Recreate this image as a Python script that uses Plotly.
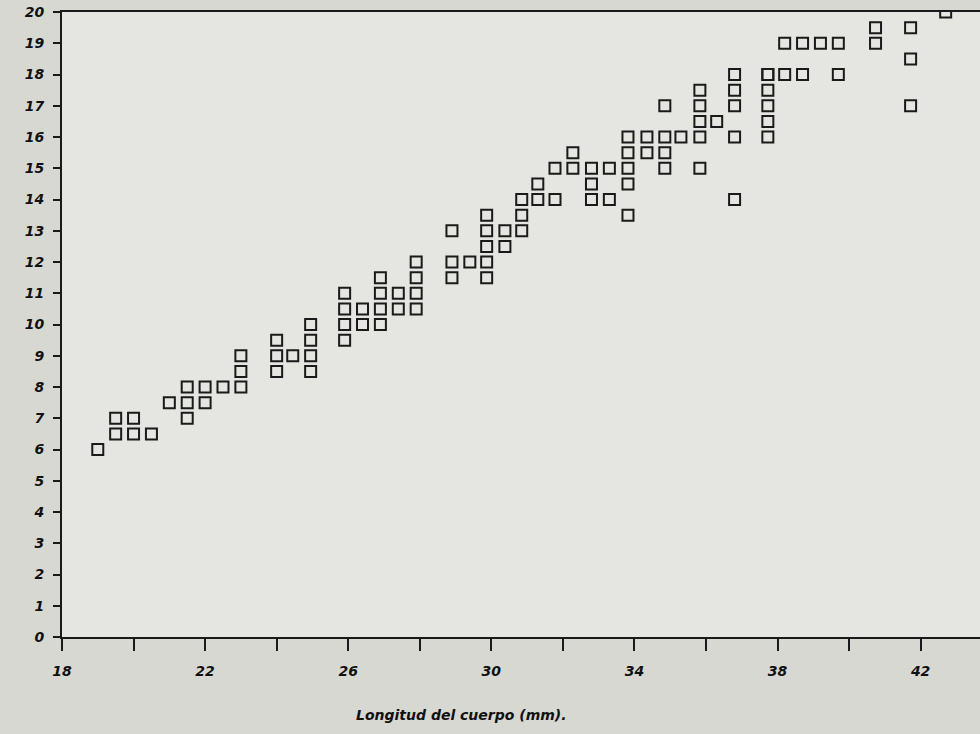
import plotly.graph_objects as go

# Body length (mm) vs. value
x_vals = [19.0,
          19.5, 19.5,
          20.0, 20.0,
          20.5,
          21.0,
          21.5, 21.5, 21.5,
          22.0, 22.0,
          22.5,
          23.0, 23.0, 23.0,
          24.0, 24.0, 24.0,
          24.45,
          24.95, 24.95, 24.95, 24.95,
          25.9, 25.9, 25.9, 25.9,
          26.4, 26.4,
          26.9, 26.9, 26.9, 26.9,
          27.4, 27.4,
          27.9, 27.9, 27.9, 27.9,
          28.9, 28.9, 28.9,
          29.4,
          29.87, 29.87, 29.87, 29.87, 29.87,
          30.38, 30.38,
          30.85, 30.85, 30.85,
          31.3, 31.3,
          31.78, 31.78,
          32.28, 32.28,
          32.8, 32.8, 32.8,
          33.3, 33.3,
          33.82, 33.82, 33.82, 33.82, 33.82,
          34.35, 34.35,
          34.85, 34.85, 34.85, 34.85,
          35.3,
          35.83, 35.83, 35.83, 35.83, 35.83,
          36.3,
          36.8, 36.8, 36.8, 36.8, 36.8,
          37.73, 37.73, 37.73, 37.73, 37.73, 37.73,
          38.2, 38.2,
          38.7, 38.7,
          39.2,
          39.7, 39.7,
          40.74, 40.74,
          41.72, 41.72, 41.72,
          42.7]
y_vals = [6.0,
          7.0, 6.5,
          7.0, 6.5,
          6.5,
          7.5,
          8.0, 7.5, 7.0,
          8.0, 7.5,
          8.0,
          9.0, 8.5, 8.0,
          9.5, 9.0, 8.5,
          9.0,
          10.0, 9.5, 9.0, 8.5,
          11.0, 10.5, 10.0, 9.5,
          10.5, 10.0,
          11.5, 11.0, 10.5, 10.0,
          11.0, 10.5,
          12.0, 11.5, 11.0, 10.5,
          13.0, 12.0, 11.5,
          12.0,
          13.5, 13.0, 12.5, 12.0, 11.5,
          13.0, 12.5,
          14.0, 13.5, 13.0,
          14.5, 14.0,
          15.0, 14.0,
          15.5, 15.0,
          15.0, 14.5, 14.0,
          15.0, 14.0,
          16.0, 15.5, 15.0, 14.5, 13.5,
          16.0, 15.5,
          17.0, 16.0, 15.5, 15.0,
          16.0,
          17.5, 17.0, 16.5, 16.0, 15.0,
          16.5,
          18.0, 17.5, 17.0, 16.0, 14.0,
          18.0, 17.5, 17.0, 16.5, 16.0, 18.0,
          19.0, 18.0,
          19.0, 18.0,
          19.0,
          19.0, 18.0,
          19.5, 19.0,
          19.5, 18.5, 17.0,
          20.0]

x_ticks = [18, 20, 22, 24, 26, 28, 30, 32, 34, 36, 38, 40, 42]
x_labels = ["18", "", "22", "", "26", "", "30", "", "34", "", "38", "", "42"]
y_ticks = list(range(0, 21))
x_title = "Longitud del cuerpo (mm)."

tick_font = dict(family="DejaVu Sans", size=14, color="#111111",
                 style="italic", weight="bold")

fig = go.Figure()
fig.add_trace(go.Scatter(
    x=x_vals, y=y_vals, mode="markers",
    marker=dict(symbol="square-open", size=11, color="#1a1a1a",
                line=dict(width=2, color="#1a1a1a")),
    showlegend=False, hoverinfo="x+y"))

fig.update_layout(
    width=980, height=734,
    margin=dict(l=62, r=0, t=12, b=97),
    paper_bgcolor="#d8d8d3",
    plot_bgcolor="#e5e5e1",
    showlegend=False,
)
fig.update_xaxes(
    range=[18, 43.66], tickvals=x_ticks, ticktext=x_labels,
    showline=True, linecolor="#1a1a1a", linewidth=2, mirror=True,
    ticks="outside", ticklen=12, tickwidth=2, tickcolor="#1a1a1a",
    showgrid=False, zeroline=False, tickfont=tick_font,
    ticklabelstandoff=8,
)
fig.update_yaxes(
    range=[0, 20], tickvals=y_ticks,
    showline=True, linecolor="#1a1a1a", linewidth=2, mirror=False,
    ticks="outside", ticklen=7, tickwidth=2, tickcolor="#1a1a1a",
    showgrid=False, zeroline=False, tickfont=tick_font,
    ticklabelstandoff=6,
)
fig.add_annotation(
    text=x_title, xref="paper", yref="paper", x=0.435, y=-0.125,
    xanchor="center", yanchor="middle", showarrow=False,
    font=dict(family="DejaVu Sans", size=14, color="#111111",
              style="italic", weight="bold"))

fig.write_html("out.html")
